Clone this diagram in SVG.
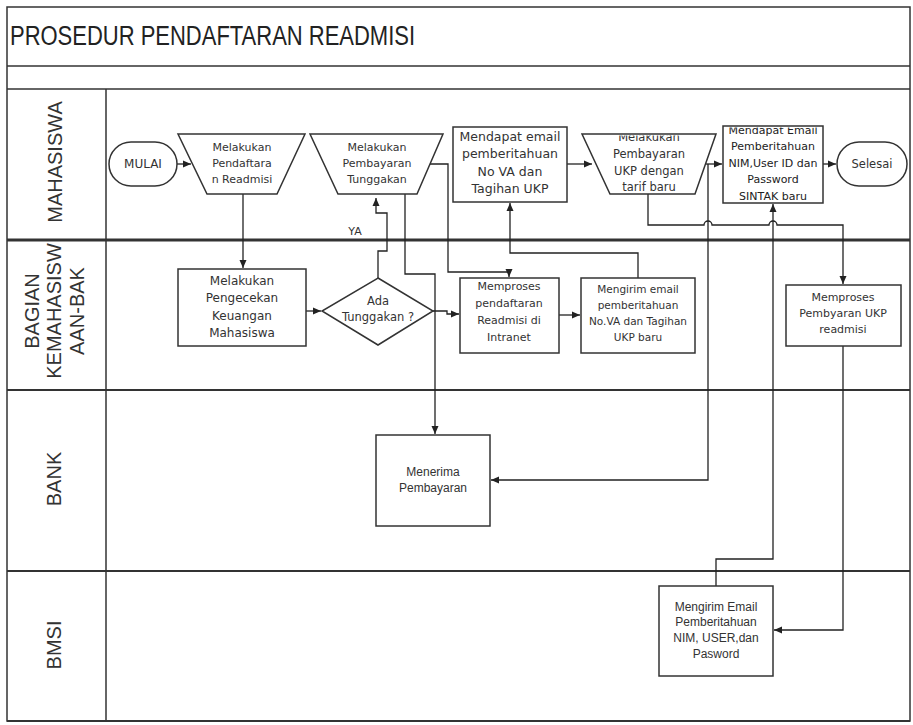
<svg xmlns="http://www.w3.org/2000/svg" width="913" height="725" viewBox="0 0 913 725">
<style>
.frame{fill:none;stroke:#333;stroke-width:1.5}
.lane{fill:none;stroke:#333;stroke-width:2.2}
.node{fill:#fff;stroke:#333;stroke-width:1.5}
.c{fill:none;stroke:#222;stroke-width:1.3}
.t{font-family:"DejaVu Sans",Verdana,sans-serif;font-size:11px;fill:#333;text-anchor:middle}
.a{font-family:"Liberation Sans",Arial,sans-serif;font-size:12px;fill:#333;text-anchor:middle}
.lbl{font-family:"Liberation Sans",Arial,sans-serif;font-size:20px;fill:#333;text-anchor:middle}
</style>
<defs>
<marker id="ah" markerUnits="userSpaceOnUse" markerWidth="10" markerHeight="10" viewBox="0 0 10 10" refX="9" refY="5" orient="auto">
<path d="M1,1.5 L9,5 L1,8.5 Z" fill="#222"/>
</marker>
<clipPath id="clip3"><rect x="570" y="135.5" width="160" height="60"/></clipPath>
<clipPath id="clip5"><rect x="715" y="127.5" width="115" height="80"/></clipPath>
</defs>
<rect width="913" height="725" fill="#fff"/>
<g id="frame">
<rect class="frame" x="7" y="7" width="903" height="714"/>
<line class="frame" x1="7" y1="66" x2="910" y2="66"/>
<line class="frame" x1="7" y1="89" x2="910" y2="89"/>
<line class="frame" x1="106" y1="89" x2="106" y2="721"/>
<line class="lane" x1="7" y1="240" x2="910" y2="240" style="stroke-width:3"/>
<line class="lane" x1="7" y1="390" x2="910" y2="390"/>
<line class="lane" x1="7" y1="571" x2="910" y2="571"/>
<line class="lane" x1="7" y1="721" x2="910" y2="721"/>
<text x="10" y="45" font-family="Liberation Sans, Arial, sans-serif" font-size="27" fill="#222" textLength="405" lengthAdjust="spacingAndGlyphs">PROSEDUR PENDAFTARAN READMISI</text>
<text class="lbl" transform="translate(62,162) rotate(-90)">MAHASISWA</text>
<text class="lbl" transform="translate(39,311) rotate(-90)">BAGIAN</text>
<text class="lbl" transform="translate(61,311) rotate(-90)">KEMAHASISW</text>
<text class="lbl" transform="translate(84,311) rotate(-90)">AAN-BAK</text>
<text class="lbl" transform="translate(61,479) rotate(-90)">BANK</text>
<text class="lbl" transform="translate(61,645) rotate(-90)">BMSI</text>
</g>
<g id="connectors">
<path class="c" d="M177,164 H191" marker-end="url(#ah)"/>
<path class="c" d="M243,194 V268" marker-end="url(#ah)"/>
<path class="c" d="M306,311 H321" marker-end="url(#ah)"/>
<path class="c" d="M378,278 V251 H387 V213 H376 V198" marker-end="url(#ah)"/>
<path class="c" d="M433,311 H447 V314 H459" marker-end="url(#ah)"/>
<path class="c" d="M430,164 H448 V272 H509 V277" marker-end="url(#ah)"/>
<path class="c" d="M405,194 V274 H435 V434" marker-end="url(#ah)"/>
<path class="c" d="M559,315 H580" marker-end="url(#ah)"/>
<path class="c" d="M638,278 V253 H510 V203" marker-end="url(#ah)"/>
<path class="c" d="M567,164 H592" marker-end="url(#ah)"/>
<path class="c" d="M705,164 H722" marker-end="url(#ah)"/>
<path class="c" d="M708,164 V480 H491" marker-end="url(#ah)"/>
<path class="c" d="M823,164 H836" marker-end="url(#ah)"/>
<path class="c" d="M648,194 V225 H704 a4,4 0 0 1 8,0 H769 a4,4 0 0 1 8,0 H843 V284" marker-end="url(#ah)"/>
<path class="c" d="M843,346 V630 H774" marker-end="url(#ah)"/>
<path class="c" d="M716,586 V559 H773 V204" marker-end="url(#ah)"/>
<text class="t" x="355" y="235">YA</text>
</g>
<g id="mulai">
<rect class="node" x="109" y="142" width="68" height="44" rx="22"/>
<text class="t" x="143" y="168" style="font-size:12px">MULAI</text>
</g>
<g id="pendaftaran">
<polygon class="node" points="178,134 305,134 277,194 207,194"/>
<text class="t" x="242" y="151">Melakukan</text>
<text class="t" x="242" y="167">Pendaftara</text>
<text class="t" x="242" y="183">n Readmisi</text>
</g>
<g id="pembayaran-tunggakan">
<polygon class="node" points="310,134 443,134 417,194 338,194"/>
<text class="t" x="377" y="151">Melakukan</text>
<text class="t" x="377" y="167">Pembayaran</text>
<text class="t" x="377" y="183">Tunggakan</text>
</g>
<g id="email-va">
<rect class="node" x="453" y="127" width="114" height="75"/>
<text class="t" x="510" y="141" style="font-size:12.5px">Mendapat email</text>
<text class="t" x="510" y="158" style="font-size:12.5px">pemberitahuan</text>
<text class="t" x="510" y="176" style="font-size:12.5px">No VA dan</text>
<text class="t" x="510" y="193" style="font-size:12.5px">Tagihan UKP</text>
</g>
<g id="pembayaran-ukp">
<polygon class="node" points="582,134 716,134 695,194 610,194"/>
<g clip-path="url(#clip3)">
<text class="t" x="649" y="141" style="font-size:11.5px">Melakukan</text>
</g>
<text class="t" x="649" y="158" style="font-size:11.5px">Pembayaran</text>
<text class="t" x="649" y="175" style="font-size:11.5px">UKP dengan</text>
<text class="t" x="649" y="191" style="font-size:11.5px">tarif baru</text>
</g>
<g id="email-nim">
<rect class="node" x="723" y="126" width="100" height="77"/>
<g clip-path="url(#clip5)">
<text class="t" x="773" y="134" style="fill:#222">Mendapat Email</text>
</g>
<text class="t" x="773" y="150" style="fill:#222">Pemberitahuan</text>
<text class="t" x="773" y="167" style="fill:#222">NIM,User ID dan</text>
<text class="t" x="773" y="183" style="fill:#222">Password</text>
<text class="t" x="773" y="200" style="fill:#222">SINTAK baru</text>
</g>
<g id="selesai">
<rect class="node" x="837" y="142" width="70" height="44" rx="22"/>
<text class="t" x="872" y="168" style="font-size:11.5px">Selesai</text>
</g>
<g id="pengecekan">
<rect class="node" x="178" y="269" width="128" height="77"/>
<text class="t" x="242" y="285" style="font-size:12px">Melakukan</text>
<text class="t" x="242" y="302" style="font-size:12px">Pengecekan</text>
<text class="t" x="242" y="320" style="font-size:12px">Keuangan</text>
<text class="t" x="242" y="337" style="font-size:12px">Mahasiswa</text>
</g>
<g id="tunggakan">
<polygon class="node" points="378,278 433,311 378,345 322,311"/>
<text class="t" x="378" y="305" style="font-size:11.5px">Ada</text>
<text class="t" x="378" y="321" style="font-size:11.5px">Tunggakan ?</text>
</g>
<g id="memproses-pendaftaran">
<rect class="node" x="460" y="278" width="99" height="75"/>
<text class="t" x="509" y="290">Memproses</text>
<text class="t" x="509" y="307">pendaftaran</text>
<text class="t" x="509" y="324">Readmisi di</text>
<text class="t" x="509" y="341">Intranet</text>
</g>
<g id="mengirim-va">
<rect class="node" x="581" y="278" width="114" height="75"/>
<text class="t" x="638" y="293" style="font-size:10.5px">Mengirim email</text>
<text class="t" x="638" y="309" style="font-size:10.5px">pemberitahuan</text>
<text class="t" x="638" y="325" style="font-size:10.5px">No.VA dan Tagihan</text>
<text class="t" x="638" y="341" style="font-size:10.5px">UKP baru</text>
</g>
<g id="memproses-ukp">
<rect class="node" x="786" y="285" width="115" height="61"/>
<text class="t" x="843" y="301">Memproses</text>
<text class="t" x="843" y="317">Pembyaran UKP</text>
<text class="t" x="843" y="333">readmisi</text>
</g>
<g id="menerima">
<rect class="node" x="376" y="435" width="114" height="91"/>
<text class="a" x="433" y="476">Menerima</text>
<text class="a" x="433" y="492">Pembayaran</text>
</g>
<g id="mengirim-nim">
<rect class="node" x="659" y="586" width="114" height="90"/>
<text class="a" x="716" y="611">Mengirim Email</text>
<text class="a" x="716" y="626">Pemberitahuan</text>
<text class="a" x="716" y="642">NIM, USER,dan</text>
<text class="a" x="716" y="658">Pasword</text>
</g>
</svg>
